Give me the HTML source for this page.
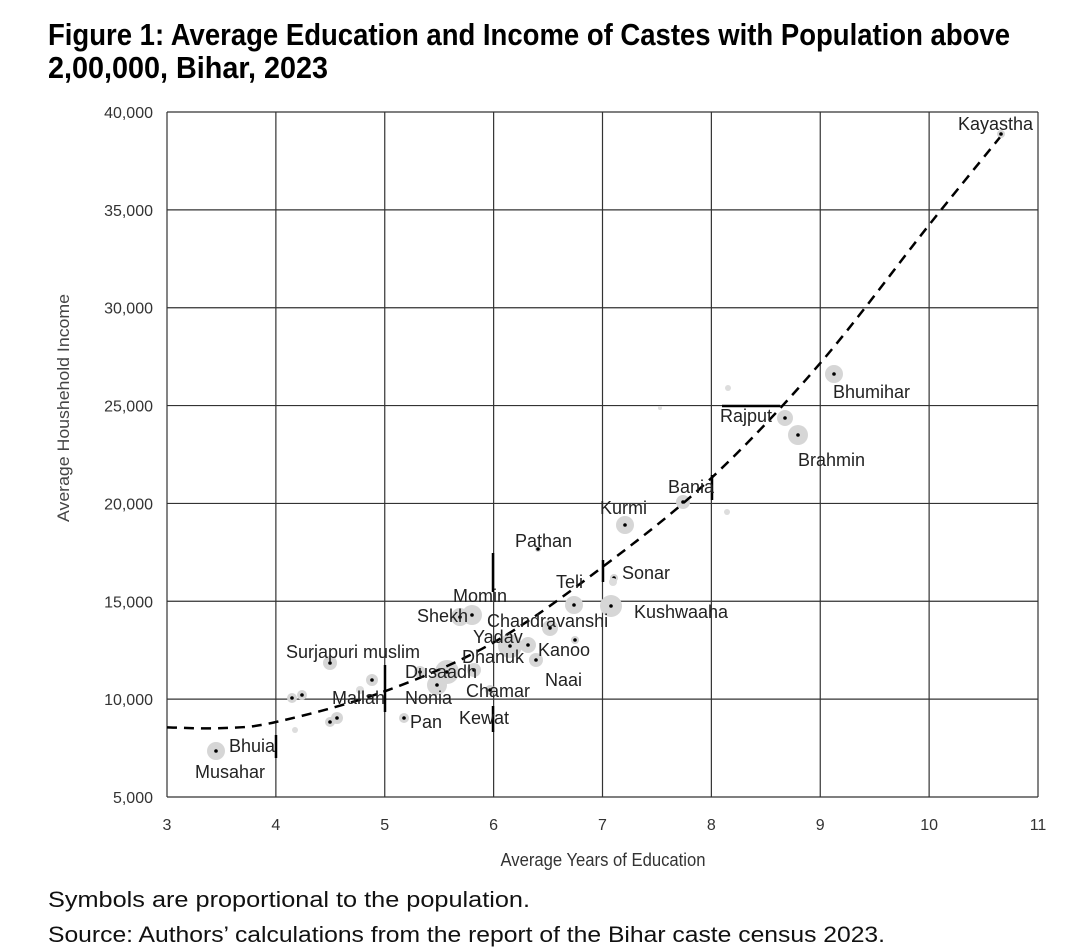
<!DOCTYPE html>
<html><head><meta charset="utf-8"><style>
html,body{margin:0;padding:0;background:#fff;}
svg{display:block;}
text{font-family:"Liberation Sans Narrow","Liberation Sans",sans-serif;}
</style></head><body>
<svg id="s" width="1080" height="947" viewBox="0 0 1080 947" xmlns="http://www.w3.org/2000/svg">
<text x="48" y="45" font-size="31" font-weight="bold" textLength="962" lengthAdjust="spacingAndGlyphs" fill="#000">Figure 1: Average Education and Income of Castes with Population above</text>
<text x="48" y="78" font-size="31" font-weight="bold" textLength="280" lengthAdjust="spacingAndGlyphs" fill="#000">2,00,000, Bihar, 2023</text>
<g id="grid" stroke="#333" stroke-width="1.2" fill="none"></g>
<g id="pts"></g>
<path id="curve" fill="none" stroke="#000" stroke-width="2.5" stroke-dasharray="10,7"/>
<g id="bars" stroke="#000" stroke-width="2.5"></g>
<g id="lbl" font-size="18" fill="#222"></g>
<g id="ticks" font-size="16" fill="#333"></g>
<text x="603" y="866" font-size="18" fill="#333" text-anchor="middle" textLength="205" lengthAdjust="spacingAndGlyphs">Average Years of Education</text>
<text transform="translate(69,408) rotate(-90)" font-size="17" fill="#444" text-anchor="middle" textLength="228" lengthAdjust="spacingAndGlyphs">Average Houshehold Income</text>
<text x="48" y="907" font-size="22" fill="#111" font-family="Liberation Sans,sans-serif" textLength="482" lengthAdjust="spacingAndGlyphs">Symbols are proportional to the population.</text>
<text x="48" y="942" font-size="22" fill="#111" font-family="Liberation Sans,sans-serif" textLength="837" lengthAdjust="spacingAndGlyphs">Source: Authors’ calculations from the report of the Bihar caste census 2023.</text>
</svg>
<script>
var NS="http://www.w3.org/2000/svg";
function X(x){return 167+(x-3)*108.875;}
function Y(v){return 797-(v-5000)*685/35000;}
function el(p,t,a,txt){var e=document.createElementNS(NS,t);for(var k in a)e.setAttribute(k,a[k]);if(txt)e.textContent=txt;document.getElementById(p).appendChild(e);return e;}
for(var i=3;i<=11;i++){el("grid","line",{x1:X(i),x2:X(i),y1:112,y2:797});el("ticks","text",{x:X(i),y:830,"text-anchor":"middle"},""+i);}
for(var v=5000;v<=40000;v+=5000){el("grid","line",{x1:167,x2:1038,y1:Y(v),y2:Y(v)});el("ticks","text",{x:153,y:Y(v)+6,"text-anchor":"end"},(v/1000)+",000");}
var K=[[3,8560],[3.5,8520],[4,8830],[5,10400],[6,12900],[7,16750],[8,21300],[9,27170],[10,34230],[10.65,38700]];
var pts=K.map(function(k){return [X(k[0]),Y(k[1])];});
var d="M"+pts[0][0]+","+pts[0][1];
for(var i=0;i<pts.length-1;i++){var p0=pts[i-1]||pts[i],p1=pts[i],p2=pts[i+1],p3=pts[i+2]||p2;
d+="C"+(p1[0]+(p2[0]-p0[0])/6).toFixed(1)+","+(p1[1]+(p2[1]-p0[1])/6).toFixed(1)+" "+(p2[0]-(p3[0]-p1[0])/6).toFixed(1)+","+(p2[1]-(p3[1]-p1[1])/6).toFixed(1)+" "+p2[0].toFixed(1)+","+p2[1].toFixed(1);}
document.getElementById("curve").setAttribute("d",d);
var P=[[1001,134,4],[834,374,9],[785,418,8],[798,435,10],[683,502,7],[625,525,9],[538,549,3],[574,605,9],[614,578,4],[611,606,11],[472,615,10],[460,617,9],[550,628,8],[510,646,12],[528,645,8],[536,660,7],[447,672,12],[474,670,7],[437,685,10],[330,663,7],[372,680,6],[292,698,5],[302,695,5],[337,718,6],[330,722,5],[216,751,9],[404,718,5],[490,690,5],[575,640,4],[420,672,6]];
P.forEach(function(p){el("pts","circle",{cx:p[0],cy:p[1],r:p[2],fill:"#d6d6d6"});el("pts","circle",{cx:p[0],cy:p[1],r:1.8,fill:"#000"});});
[[728,388,3],[727,512,3],[360,690,4],[295,730,3],[660,408,2],[613,582,4]].forEach(function(p){el("pts","circle",{cx:p[0],cy:p[1],r:p[2],fill:"#ddd"});});
[[385,665,691],[385,690,712],[276,735,758],[493,553,592],[493,706,732],[603,560,582],[712,475,500]].forEach(function(b){el("bars","line",{x1:b[0],x2:b[0],y1:b[1],y2:b[2]});});
el("bars","line",{x1:722,x2:780,y1:406,y2:406});
var L=[["Kayastha",958,130],["Bhumihar",833,398],["Rajput",720,422],["Brahmin",798,466],["Bania",668,493],["Kurmi",600,514],["Pathan",515,547],["Teli",556,588],["Sonar",622,579],["Kushwaaha",634,618],["Momin",453,602],["Shekh",417,622],["Chandravanshi",487,627],["Yadav",473,643],["Kanoo",538,656],["Dhanuk",462,663],["Naai",545,686],["Dusaadh",405,678],["Surjapuri muslim",286,658],["Mallah",332,704],["Nonia",405,704],["Chamar",466,697],["Pan",410,728],["Kewat",459,724],["Bhuia",229,752],["Musahar",195,778]];
L.forEach(function(l){el("lbl","text",{x:l[1],y:l[2]},l[0]);});
</script>
</body></html>
